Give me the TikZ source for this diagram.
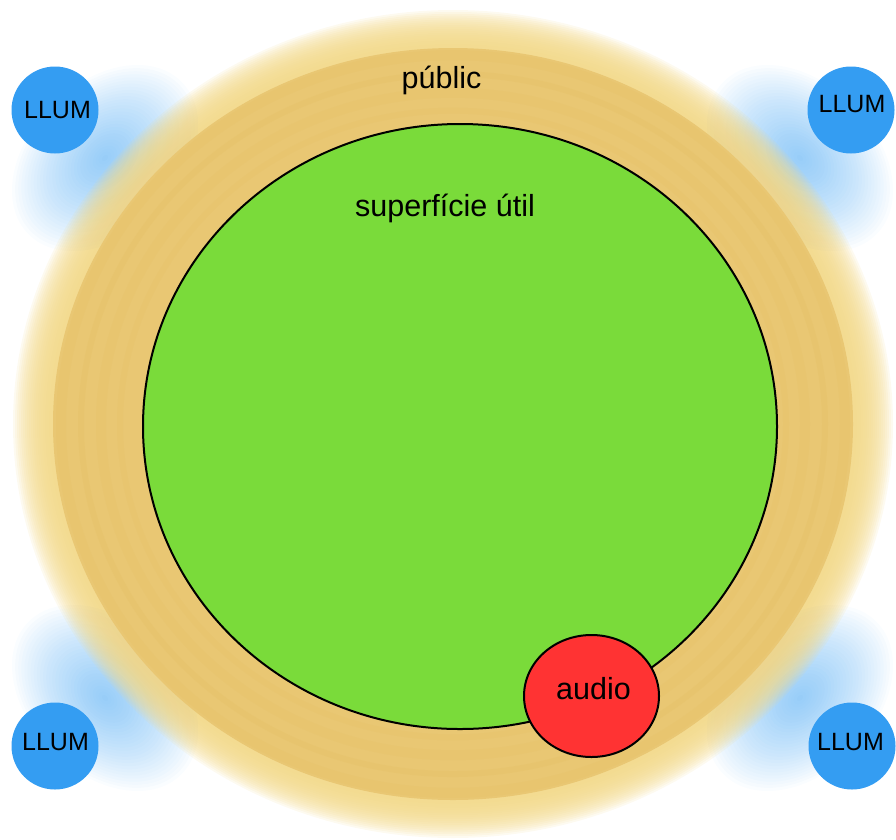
\documentclass[tikz,border=0pt]{standalone}
\usepackage{fontspec}
\setmainfont{Liberation Sans}
\definecolor{goldA}{RGB}{233,199,115}
\definecolor{goldB}{RGB}{242,216,135}
\definecolor{goldD}{RGB}{226,186,88}
\definecolor{greenU}{RGB}{122,219,58}
\definecolor{redA}{RGB}{255,51,51}
\definecolor{blueL}{RGB}{52,157,242}
\tikzset{
  llum/.style={circle, fill=blueL, minimum size=87pt, inner sep=0pt},
  glowlayer/.style={fill=blueL, fill opacity=0.022},
  lbl/.style={anchor=base, inner sep=0pt, font=\fontsize{30.5}{36}\selectfont},
  llumlbl/.style={anchor=base, inner sep=0pt, font=\fontsize{25}{30}\selectfont},
}
\begin{document}
\begin{tikzpicture}[x=1pt,y=-1pt]
\useasboundingbox (0,0) rectangle (896,839);
% blue glows
\foreach \cx/\cy/\a in {105/158/45, 800/158/-45, 105/698/-45, 800/698/45} {
  \foreach \k in {1,...,30} {
    \fill[glowlayer, rotate around={\a:(\cx,\cy)}] (\cx,\cy) ellipse [x radius={3.6*\k}, y radius={2.5*\k}];
  }
}
% golden audience disk (soft edge)
\foreach \r in {440,438,...,404} {
  \fill[goldB, fill opacity=0.12] (453,424) ellipse [x radius=\r, y radius={\r*0.9409}];
}
\fill[goldA] (453,424) ellipse [x radius=400, y radius=376];
% subtle concentric bands
\foreach \r/\w/\o in {392/10/0.14,372/6/0.18,352/10/0.12,333/6/0.12} {
  \draw[goldD, line width=\w pt, draw opacity=\o] (453,424) ellipse [x radius=\r, y radius={\r*0.9409}];
}
% useful surface
\draw[line width=2pt, fill=greenU] (460,426.5) ellipse [x radius=317, y radius=302.5];
% audio
\draw[line width=2pt, fill=redA] (591.5,696) ellipse [x radius=67.5, y radius=61];
% lights
\node[llum] (l1) at (55,110) {};
\node[llum] (l2) at (851,110) {};
\node[llum] (l3) at (55,746) {};
\node[llum] (l4) at (852,746) {};
\node[llumlbl] (t1) at (57.5,118) {LLUM};
\node[llumlbl] (t2) at (852,112.5) {LLUM};
\node[llumlbl] (t3) at (55.5,750) {LLUM};
\node[llumlbl] (t4) at (850.5,750) {LLUM};
% texts
\node[lbl] (publ) at (441.5,88) {públic};
\node[lbl] (sup) at (445,216.5) {superfície útil};
\node[lbl] (aud) at (593.5,699) {audio};
\end{tikzpicture}
\end{document}
